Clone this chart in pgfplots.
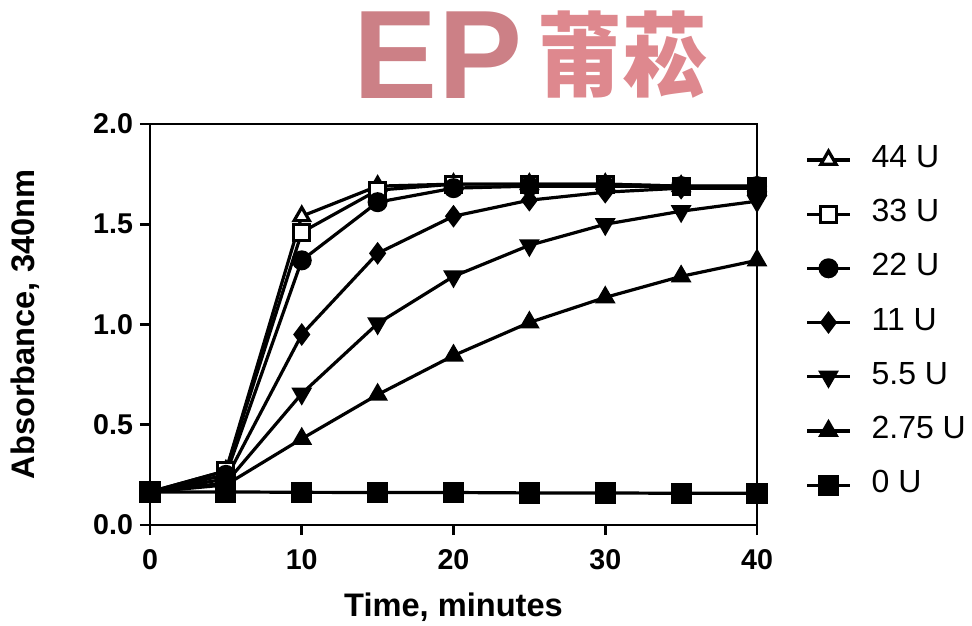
\documentclass[border=0pt]{standalone}
\usepackage{pgfplots}
\pgfplotsset{compat=1.18}
\usepackage{fontspec}
\setmainfont{Liberation Sans}
\newfontfamily\cjk{Noto Sans CJK SC}
\definecolor{wm}{RGB}{222,136,142}
\definecolor{wmd}{RGB}{204,128,134}
\begin{document}
\begin{tikzpicture}
\begin{axis}[name=ax,
  scale only axis, width=303.5pt, height=200.5pt,
  xmin=0, xmax=40, ymin=0, ymax=2,
  xtick={0,10,20,30,40}, ytick={0,0.5,1,1.5,2},
  yticklabel style={/pgf/number format/.cd,fixed,fixed zerofill,precision=1},
  xticklabel style={yshift=-3.5pt},
  /pgf/number format/assume math mode=true,
  tick align=outside, xtick pos=bottom, ytick pos=left,
  major tick length=5pt,
  tick style={line width=1.3pt, black},
  axis line style={line width=1.4pt},
  tick label style={font=\bfseries\fontsize{14.3}{16}\selectfont},
  xlabel={Time, minutes}, ylabel={Absorbance, 340nm},
  every axis x label/.style={at={(axis description cs:0.5,-0.2045)}, anchor=center, font=\bfseries\fontsize{16.3}{18}\selectfont},
  every axis y label/.style={at={(axis description cs:-0.206,0.5)}, rotate=90, anchor=center, font=\bfseries\fontsize{16.3}{18}\selectfont},
  clip=false,
  legend image code/.code={\draw[mark repeat=2,mark phase=2] plot coordinates {(0pt,0pt)(10.75pt,0pt)(21.5pt,0pt)};},
  legend style={at={(1,1)}, anchor=north west, xshift=24pt, yshift=-11pt, draw=none, fill=none,
    font=\fontsize{16}{18}\selectfont, row sep=13.6pt, inner sep=0pt,
    nodes={inner sep=0pt, text height=10.5pt, text depth=3pt},
    /tikz/every odd column/.append style={column sep=10pt}},
  legend cell align=left,
]
\addplot[black, line width=1.6pt, mark=triangle*, mark size=4.4pt, mark options={solid, fill=white}] coordinates {(0,0.165)(5,0.27)(10,1.54)(15,1.69)(20,1.70)(25,1.70)(30,1.70)(35,1.69)(40,1.69)};
\addlegendentry{44 U}
\addplot[black, line width=1.6pt, mark=square*, mark size=4pt, mark options={solid, fill=white}] coordinates {(0,0.165)(5,0.27)(10,1.46)(15,1.67)(20,1.70)(25,1.70)(30,1.70)(35,1.69)(40,1.69)};
\addlegendentry{33 U}
\addplot[black, line width=1.6pt, mark=*, mark size=4.2pt, mark options={solid, fill=black}] coordinates {(0,0.165)(5,0.25)(10,1.32)(15,1.61)(20,1.68)(25,1.69)(30,1.69)(35,1.69)(40,1.69)};
\addlegendentry{22 U}
\addplot[black, line width=1.6pt, mark=diamond*, mark size=4.4pt, mark options={solid, fill=black}] coordinates {(0,0.165)(5,0.23)(10,0.95)(15,1.355)(20,1.54)(25,1.62)(30,1.66)(35,1.68)(40,1.68)};
\addlegendentry{11 U}
\addplot[black, line width=1.6pt, mark=triangle*, mark size=4.4pt, mark options={solid, fill=black, rotate=180}] coordinates {(0,0.165)(5,0.21)(10,0.655)(15,1.005)(20,1.24)(25,1.395)(30,1.50)(35,1.565)(40,1.615)};
\addlegendentry{5.5 U}
\addplot[black, line width=1.6pt, mark=triangle*, mark size=4.4pt, mark options={solid, fill=black}] coordinates {(0,0.165)(5,0.20)(10,0.43)(15,0.65)(20,0.845)(25,1.01)(30,1.135)(35,1.24)(40,1.32)};
\addlegendentry{2.75 U}
\addplot[black, line width=1.6pt, mark=square*, mark size=4.5pt, mark options={solid, fill=black}] coordinates {(0,0.165)(5,0.165)(10,0.163)(15,0.162)(20,0.162)(25,0.16)(30,0.16)(35,0.158)(40,0.158)};
\addlegendentry{0 U}
\end{axis}
\node[text=wmd, font=\bfseries\fontsize{63}{63}\selectfont, anchor=center] at ([xshift=144pt,yshift=34.5pt]ax.north west) {EP};
\node[text=wm, font=\cjk\bfseries\fontsize{46}{46}\selectfont, xscale=0.92, anchor=center] at ([xshift=236pt,yshift=34.5pt]ax.north west) {莆菘};
\pgfresetboundingbox
\path[use as bounding box] ([xshift=-75pt,yshift=-50pt]ax.south west) rectangle ([xshift=107.5pt,yshift=62pt]ax.north east);
\end{tikzpicture}
\end{document}
